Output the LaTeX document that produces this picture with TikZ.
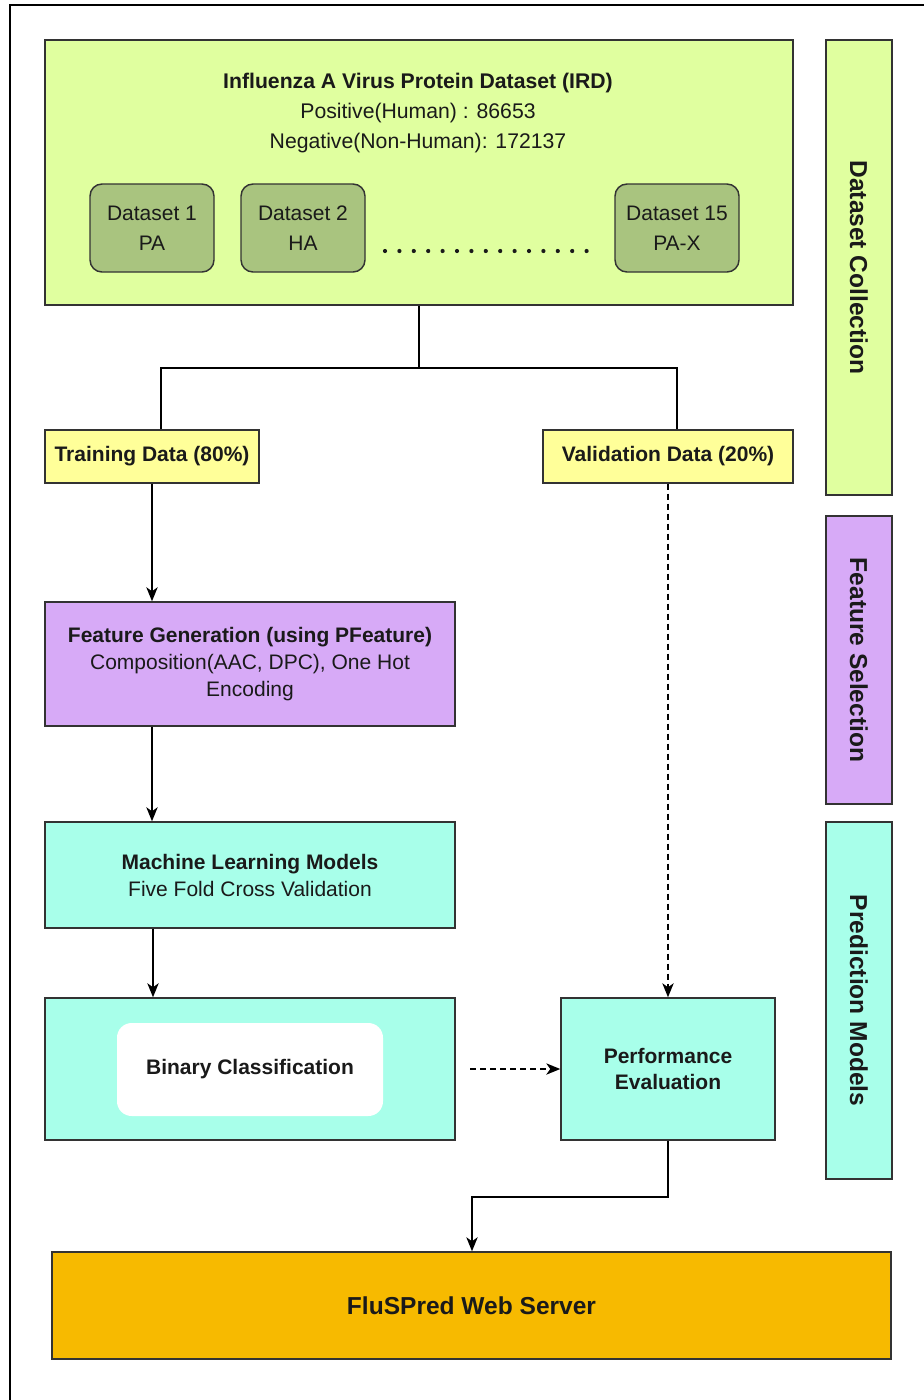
\documentclass[tikz,border=0pt]{standalone}
\usepackage{fontspec}
\setmainfont{Liberation Sans}
\usetikzlibrary{arrows.meta}
\definecolor{cLime}{HTML}{E0FF9F}
\definecolor{cOlive}{HTML}{A9C47F}
\definecolor{cPurple}{HTML}{D7AAF7}
\definecolor{cCyan}{HTML}{A8FFEA}
\definecolor{cYellow}{HTML}{FFFF99}
\definecolor{cOrange}{HTML}{F7BA00}
\definecolor{cBorder}{HTML}{333333}
\definecolor{cText}{HTML}{1A1A1A}
\begin{document}
\begin{tikzpicture}[x=0.75pt,y=-0.75pt,
  box/.style={draw=cBorder, line width=1.1pt, inner sep=0pt, align=center, text=cText,
    font=\fontsize{15.75}{22.5}\selectfont},
  dsbox/.style={box, fill=cOlive, rounded corners=9pt, minimum width=124*0.75pt, minimum height=88*0.75pt},
  sidebar/.style={box, minimum width=66*0.75pt, font=\bfseries\fontsize{18.4}{22}\selectfont},
  txt/.style={inner sep=0pt, align=center, text=cText},
  conn/.style={draw=black, line width=1.1pt},
  arr/.style={conn, -{Stealth[length=10.5pt,width=8.5pt,inset=3pt]}},
  darr/.style={arr, dash pattern=on 4.5pt off 3pt}
]
\useasboundingbox (0,0) rectangle (924,1400);
% outer frame (only top and left edges are visible)
\coordinate (fTL) at (10,5);
\coordinate (fTR) at (924,5);
\coordinate (fBL) at (10,1400);
\draw[line width=1.4pt] (fBL) -- (fTL) -- (fTR);

% dataset collection
\node[box, fill=cLime, minimum width=748*0.75pt, minimum height=265*0.75pt] (top) at (419,172.5) {};
\node[txt, font=\fontsize{15.9}{22.2}\selectfont] (toptxt) at (418,113)
  {\textbf{Influenza A Virus Protein Dataset (IRD)}\\Positive(Human) : 86653\\Negative(Non-Human): 172137};
\node[dsbox] (ds1) at (152,228) {Dataset 1\\PA};
\node[dsbox] (ds2) at (303,228) {Dataset 2\\HA};
\node[dsbox] (ds15) at (677,228) {Dataset 15\\PA-X};
\foreach \i in {0,...,14} \fill[cText] (385+\i*14.4,251) circle (2.1);

% side bars
\node[sidebar, fill=cLime, minimum height=455*0.75pt] (sb1) at (859,267.5) {};
\node[txt, rotate=-90, font=\bfseries\fontsize{18.4}{22}\selectfont] (sb1t) at (sb1.center) {Dataset Collection};
\node[sidebar, fill=cPurple, minimum height=288*0.75pt] (sb2) at (859,660) {};
\node[txt, rotate=-90, font=\bfseries\fontsize{18.4}{22}\selectfont] (sb2t) at (sb2.center) {Feature Selection};
\node[sidebar, fill=cCyan, minimum height=357*0.75pt] (sb3) at (859,1000.5) {};
\node[txt, rotate=-90, font=\bfseries\fontsize{18.4}{22}\selectfont] (sb3t) at (sb3.center) {Prediction Models};

% training / validation
\node[box, fill=cYellow, minimum width=214*0.75pt, minimum height=53*0.75pt, font=\bfseries\fontsize{15.75}{22}\selectfont] (train) at (152,456.5) {Training Data (80\%)};
\node[box, fill=cYellow, minimum width=250*0.75pt, minimum height=53*0.75pt, font=\bfseries\fontsize{15.75}{22}\selectfont] (valid) at (668,456.5) {Validation Data (20\%)};

% pipeline
\node[box, fill=cPurple, minimum width=410*0.75pt, minimum height=124*0.75pt, font=\fontsize{15.75}{20.25}\selectfont] (feat) at (250,664)
  {\textbf{Feature Generation (using PFeature)}\\Composition(AAC, DPC), One Hot\\Encoding};
\node[box, fill=cCyan, minimum width=410*0.75pt, minimum height=106*0.75pt, font=\fontsize{15.75}{20.25}\selectfont] (ml) at (250,875)
  {\textbf{Machine Learning Models}\\Five Fold Cross Validation};
\node[box, fill=cCyan, minimum width=410*0.75pt, minimum height=142*0.75pt] (bin) at (250,1069) {};
\node[fill=white, rounded corners=11pt, minimum width=266*0.75pt, minimum height=93*0.75pt, inner sep=0pt, text=cText, font=\bfseries\fontsize{15.75}{22}\selectfont] (bininner) at (250,1069.5) {Binary Classification};
\node[box, fill=cCyan, minimum width=214*0.75pt, minimum height=142*0.75pt, font=\bfseries\fontsize{15.75}{19.5}\selectfont] (perf) at (668,1069) {Performance\\Evaluation};
\node[box, fill=cOrange, minimum width=839*0.75pt, minimum height=107*0.75pt, font=\bfseries\fontsize{18.4}{22}\selectfont] (web) at (471.5,1305.5) {FluSPred Web Server};

% connectors
\coordinate (split) at (419,368);
\draw[conn] (top.south) -- (split) -| (train.north -| 161,0);
\draw[conn] (split) -| (valid.north -| 677,0);
\draw[arr] (train.south) -- (feat.north -| train.south);
\draw[arr] (feat.south -| 152,0) -- (ml.north -| 152,0);
\draw[arr] (ml.south -| 153,0) -- (bin.north -| 153,0);
\draw[darr, shorten <=11pt] (bin.east |- perf.west) -- (perf.west);
\draw[darr] (valid.south) -- (perf.north);
\coordinate (bend) at (472,1197);
\draw[arr] (perf.south) |- (bend) -- (web.north -| bend);
\end{tikzpicture}
\end{document}
